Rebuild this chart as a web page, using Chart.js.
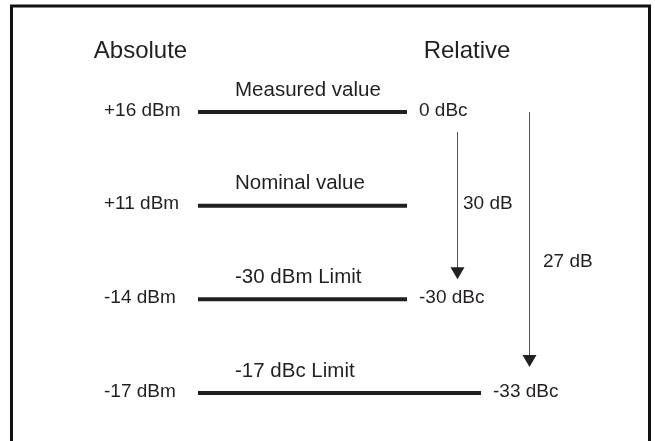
<!DOCTYPE html>
<html>
<head>
<meta charset="utf-8">
<script src="https://cdn.jsdelivr.net/npm/chart.js@4/dist/chart.umd.min.js"></script>
<style>
html,body{margin:0;padding:0;background:#fff;}
canvas{display:block;}
</style>
</head>
<body>
<canvas id="c" width="655" height="441"></canvas>
<script>
// ---- data ----
const absoluteDbm = [16, 11, -14, -17];
const relativeDbc = [0, null, -30, -33];
const levelNames = ['Measured value', 'Nominal value', '-30 dBm Limit', '-17 dBc Limit'];
const rowLabels = absoluteDbm.map(v => (v > 0 ? '+' : '') + v + ' dBm');
const columnTitles = ['Absolute', 'Relative'];
const arrowDb = [30, 27];
const arrowFromRow = [0, 0];
const arrowToRow = [2, 3];

// ---- layout (diagram units on a hidden x axis) ----
const L = {
  absLabelX: 104, lineStart: 198, lineEnd: 407, longLineEnd: 481, longRow: 3,
  nameX: 235, relGap: 12,
  arrowX: [457, 529], arrowStartOff: [20, 0], arrowTipOff: [-20, -26],
  arrowLabelX: [463, 543],
  titleX: [140.5, 467], titleY: 58,
  border: {left: 11.5, right: 649.5, top: 6}
};
const INK = '#231f20';
const FONT = '"Liberation Sans", Arial, sans-serif';

const lineEnd = i => (i === L.longRow ? L.longLineEnd : L.lineEnd);

const datasets = absoluteDbm.map((v, i) => ({
  label: levelNames[i],
  data: [{x: L.lineStart, y: rowLabels[i]}, {x: lineEnd(i), y: rowLabels[i]}],
  showLine: true,
  borderColor: INK,
  borderWidth: 4,
  borderCapStyle: 'butt',
  pointRadius: 0,
  clip: false
}));

const diagramText = {
  id: 'diagramText',
  afterDraw(chart) {
    const ctx = chart.ctx;
    const xs = chart.scales.x, ys = chart.scales.y;
    const X = v => xs.getPixelForValue(v);
    const Y = i => ys.getPixelForValue(i);
    ctx.save();
    // frame
    ctx.strokeStyle = '#111';
    ctx.lineWidth = 3;
    ctx.beginPath();
    ctx.moveTo(X(L.border.left), chart.height + 10);
    ctx.lineTo(X(L.border.left), L.border.top);
    ctx.lineTo(X(L.border.right), L.border.top);
    ctx.lineTo(X(L.border.right), chart.height + 10);
    ctx.stroke();

    ctx.fillStyle = INK;
    // column titles
    ctx.font = '24px ' + FONT;
    ctx.textAlign = 'center';
    ctx.textBaseline = 'alphabetic';
    columnTitles.forEach((t, k) => ctx.fillText(t, X(L.titleX[k]), L.titleY));

    // level names above lines
    ctx.font = '20.5px ' + FONT;
    ctx.textAlign = 'left';
    levelNames.forEach((t, i) => ctx.fillText(t, X(L.nameX), Y(i) - 16.5));

    // absolute & relative labels
    ctx.font = '19px ' + FONT;
    rowLabels.forEach((t, i) => ctx.fillText(t, X(L.absLabelX), Y(i) + 3.5));
    relativeDbc.forEach((v, i) => {
      if (v === null) return;
      ctx.fillText(v + ' dBc', X(lineEnd(i) + L.relGap), Y(i) + 3.5);
    });

    // arrows
    arrowDb.forEach((db, k) => {
      const x = Math.round(X(L.arrowX[k])) + 0.5;
      const y0 = Y(arrowFromRow[k]) + L.arrowStartOff[k];
      const tip = Y(arrowToRow[k]) + L.arrowTipOff[k];
      ctx.strokeStyle = '#555';
      ctx.lineWidth = 1;
      ctx.beginPath();
      ctx.moveTo(x, y0);
      ctx.lineTo(x, tip - 8);
      ctx.stroke();
      ctx.fillStyle = INK;
      ctx.beginPath();
      ctx.moveTo(x, tip);
      ctx.lineTo(x - 7, tip - 12);
      ctx.lineTo(x + 7, tip - 12);
      ctx.closePath();
      ctx.fill();
    });
    ctx.font = '19px ' + FONT;
    ctx.fillStyle = INK;
    ctx.fillText(arrowDb[0] + ' dB', X(L.arrowLabelX[0]), Y(1) + 3);
    ctx.fillText(arrowDb[1] + ' dB', X(L.arrowLabelX[1]), (Y(1) + Y(2)) / 2 + 14);
    ctx.restore();
  }
};

new Chart(document.getElementById('c'), {
  type: 'scatter',
  data: { datasets },
  options: {
    responsive: false,
    devicePixelRatio: 1,
    animation: false,
    events: [],
    layout: { padding: { top: 112, bottom: 441 - 393, left: 0, right: 0 } },
    scales: {
      x: { type: 'linear', min: 0, max: 655, display: false },
      y: { type: 'category', labels: rowLabels, offset: false, display: false }
    },
    plugins: { legend: { display: false }, tooltip: { enabled: false } }
  },
  plugins: [diagramText]
});
</script>
</body>
</html>
